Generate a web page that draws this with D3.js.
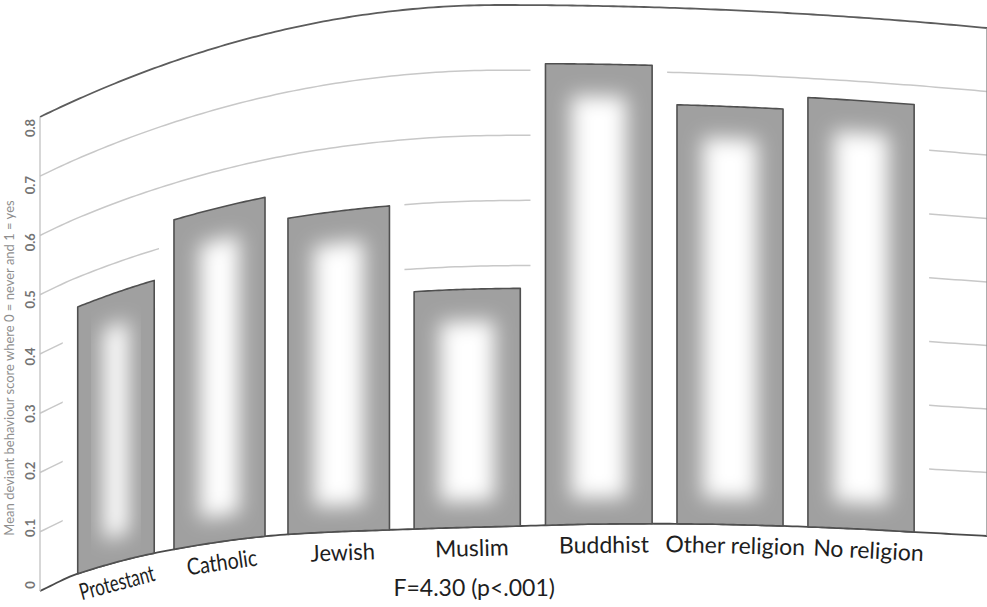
<!DOCTYPE html>
<html>
<head>
<meta charset="utf-8">
<script src="https://cdn.jsdelivr.net/npm/d3@7"></script>
<style>
  body { margin: 0; background: #fff; }
  svg { display: block; }
</style>
</head>
<body>
<svg id="chart" width="987" height="607"></svg>
<script>
// ---- data ----
const categories = ["Protestant", "Catholic", "Jewish", "Muslim", "Buddhist", "Other religion", "No religion"];
const meanValues = [0.45, 0.54, 0.50, 0.365, 0.71, 0.65, 0.67];
const yTicks = [0, 0.1, 0.2, 0.3, 0.4, 0.5, 0.6, 0.7, 0.8];
const yTickLabels = ["0", "0.1", "0.2", "0.3", "0.4", "0.5", "0.6", "0.7", "0.8"];
const yTitle = "Mean deviant behaviour score where 0 = never and 1 = yes";
const xTitle = "F=4.30 (p<.001)";

// ---- layout ----
const svg = d3.select("#chart");
svg.append("rect").attr("width", 987).attr("height", 607).attr("fill", "#fff");

// smooth cubic Hermite through control points
function smoothCurve(pts) {
  const xs = pts.map(p => p[0]), ys = pts.map(p => p[1]), n = pts.length;
  const m = ys.map((y, i) => {
    if (i === 0) return (ys[1] - ys[0]) / (xs[1] - xs[0]);
    if (i === n - 1) return (ys[n - 1] - ys[n - 2]) / (xs[n - 1] - xs[n - 2]);
    return (ys[i + 1] - ys[i - 1]) / (xs[i + 1] - xs[i - 1]);
  });
  return x => {
    let i = d3.bisectRight(xs, x) - 1;
    i = Math.max(0, Math.min(n - 2, i));
    const h = xs[i + 1] - xs[i], t = (x - xs[i]) / h, t2 = t * t, t3 = t2 * t;
    return (2 * t3 - 3 * t2 + 1) * ys[i] + (t3 - 2 * t2 + t) * h * m[i]
         + (-2 * t3 + 3 * t2) * ys[i + 1] + (t3 - t2) * h * m[i + 1];
  };
}

// flat chart: category bands in unit steps, plot spans PLOT_S
const PLOT_S = [-0.35, 7.46];
const band = d3.scaleBand().domain(categories).range([0, 7]).paddingInner(0.19).paddingOuter(0.095);
const yFrac = d3.scaleLinear().domain([0, 0.8]).range([0, 1]);

// the printed page bends: horizontal position, baseline curve and top rule
const pageX = smoothCurve([[-0.35, 40], [0.5, 114], [1.5, 218], [2.5, 338], [3.5, 467], [4.5, 599], [5.5, 730], [6.5, 861], [7.46, 987]]);
const baseY = smoothCurve([[40, 591], [77, 574], [155, 553], [268, 536], [414, 529], [521, 526], [600, 524], [700, 524], [783, 526], [860, 529], [914, 532], [987, 536]]);
const topY = X => X < 500 ? 5 + 5.29e-4 * (500 - X) ** 2 : 5 + 9.7e-5 * (X - 500) ** 2;
const yAt = (X, v) => baseY(X) + yFrac(v) * (topY(X) - baseY(X));
const warp = (s, v) => [pageX(s), yAt(pageX(s), v)];
const stretch = s => (pageX(s + 0.05) - pageX(s - 0.05)) / 0.1 / 131;

const line = d3.line();
const sampleS = (s0, s1, n) => d3.range(n + 1).map(k => s0 + (s1 - s0) * k / n);

const defs = svg.append("defs");
defs.append("filter").attr("id", "glow").attr("x", "-50%").attr("y", "-50%").attr("width", "200%").attr("height", "200%")
  .append("feGaussianBlur").attr("stdDeviation", 10);

// gridlines
const gGrid = svg.append("g");
yTicks.filter(v => v > 0 && v < 0.8).forEach(v => {
  gGrid.append("path")
    .attr("d", line(sampleS(PLOT_S[0], PLOT_S[1], 160).map(s => warp(s, v))))
    .attr("fill", "none").attr("stroke", "#c8c8c8").attr("stroke-width", 1.5);
});

// bar geometry
const bars = categories.map((c, i) => {
  const s0 = band(c), s1 = s0 + band.bandwidth();
  const top = sampleS(s0, s1, 30).map(s => warp(s, meanValues[i]));
  const bottom = sampleS(s0, s1, 30).map(s => warp(s, 0)).reverse();
  const X0 = pageX(s0), X1 = pageX(s1);
  const inset = 26;
  const xs = d3.range(31).map(k => X0 + inset + (X1 - X0 - 2 * inset) * k / 30);
  const inner = xs.map(x => [x, yAt(x, meanValues[i]) + 32])
    .concat(xs.slice().reverse().map(x => [x, baseY(x) - 26]));
  return { c, i, outline: line(top.concat(bottom)) + "Z", inner: line(inner) + "Z" };
});

// white margin that keeps gridlines off the bars
svg.append("g").selectAll("path").data(bars).join("path")
  .attr("d", d => d.outline).attr("fill", "#fff").attr("stroke", "#fff").attr("stroke-width", 30)
  .attr("stroke-linejoin", "round");

// frame: top rule, baseline, left axis, right edge
const frame = svg.append("g").attr("fill", "none");
frame.append("path").attr("d", line(sampleS(PLOT_S[0], PLOT_S[1], 200).map(s => warp(s, 0.8))))
  .attr("stroke", "#5c5c5c").attr("stroke-width", 1.8);
frame.append("path").attr("d", line(sampleS(PLOT_S[0], PLOT_S[1], 200).map(s => warp(s, 0))))
  .attr("stroke", "#4a4a4a").attr("stroke-width", 1.8);
frame.append("path").attr("d", line([warp(PLOT_S[0], 0), warp(PLOT_S[0], 0.8)]))
  .attr("stroke", "#c2c2c2").attr("stroke-width", 1.3);
frame.append("path").attr("d", line([warp(PLOT_S[1], 0), warp(PLOT_S[1], 0.8)]))
  .attr("stroke", "#8a8a8a").attr("stroke-width", 1.4);

// bars with a soft light centre
const gBars = svg.append("g");
bars.forEach(b => {
  defs.append("clipPath").attr("id", "clip" + b.i).append("path").attr("d", b.outline);
  gBars.append("path").attr("d", b.outline).attr("fill", "#a0a0a0");
  gBars.append("path").attr("d", b.inner).attr("fill", "#fff")
    .attr("filter", "url(#glow)").attr("clip-path", "url(#clip" + b.i + ")");
  gBars.append("path").attr("d", b.outline).attr("fill", "none")
    .attr("stroke", "#505050").attr("stroke-width", 1.6).attr("stroke-linejoin", "round");
});

// category labels, following the bend of the page
const font = "Lato, 'Open Sans', sans-serif";
const labels = svg.append("g").selectAll("text").data(categories).join("text")
  .text(d => d).attr("font-family", font).attr("font-size", 23).attr("fill", "#1e1e1e")
  .attr("text-anchor", "middle");
let prevRight = -Infinity;
labels.each(function (d) {
  const sc = band(d) + band.bandwidth() / 2;
  const k = Math.min(1, stretch(sc));
  const w = this.getComputedTextLength() * k;
  let cx = pageX(sc) + 5;
  if (cx - w / 2 < prevRight + 8) cx = prevRight + 8 + w / 2;
  prevRight = cx + w / 2;
  const cy = baseY(cx) + 29;
  const ang = Math.atan2(baseY(cx + 10) - baseY(cx - 10), 20) * 180 / Math.PI;
  d3.select(this).attr("transform", `translate(${cx},${cy}) rotate(${ang}) scale(${k},1)`);
});

// x-axis note, centred on the plot
const midX = pageX((PLOT_S[0] + PLOT_S[1]) / 2);
svg.append("text").text(xTitle).attr("font-family", font).attr("font-size", 23).attr("fill", "#1e1e1e")
  .attr("text-anchor", "middle").attr("x", midX).attr("y", baseY(midX) + 69);

// y tick labels and title, set sideways along the left edge
const yLabel = d3.scaleLinear().domain([0, 0.8]).range([585, 128]);
svg.append("g").selectAll("text").data(yTicks).join("text")
  .text((d, i) => yTickLabels[i]).attr("font-family", font).attr("font-size", 13).attr("font-weight", 700)
  .attr("fill", "#747474").attr("text-anchor", "middle")
  .attr("transform", d => `translate(35,${yLabel(d)}) rotate(-90)`);
svg.append("text").text(yTitle).attr("font-family", font).attr("font-size", 13).attr("fill", "#8e8e8e")
  .attr("text-anchor", "middle").attr("transform", "translate(14,368) rotate(-90)");
</script>
</body>
</html>
